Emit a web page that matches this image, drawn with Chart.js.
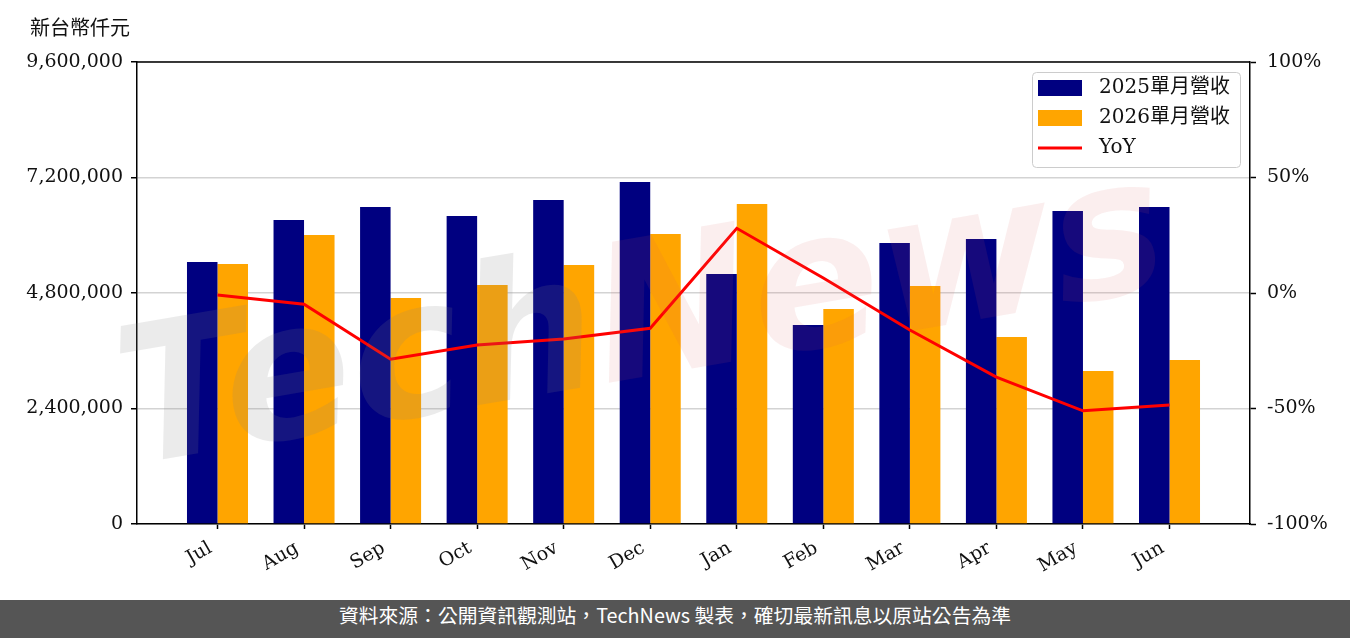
<!DOCTYPE html>
<html>
<head>
<meta charset="utf-8">
<script src="https://cdn.jsdelivr.net/npm/chart.js@4.4.1/dist/chart.umd.min.js"></script>
<style>
  html, body { margin: 0; padding: 0; background: #fff; }
  #wrap { width: 1350px; height: 638px; position: relative; }
  #footer { position: absolute; left: 0; top: 600px; width: 1350px; height: 38px; line-height: 38px;
    background: #555555; color: #fff; text-align: center; font: 19.8px "Noto Sans CJK TC", "Noto Sans", sans-serif; }
</style>
</head>
<body>
<div id="wrap">
  <canvas id="c" width="1350" height="600"></canvas>
  <div id="footer">資料來源：公開資訊觀測站，TechNews 製表，確切最新訊息以原站公告為準</div>
</div>
<script>
const months = ['Jul','Aug','Sep','Oct','Nov','Dec','Jan','Feb','Mar','Apr','May','Jun'];
const rev2025 = [5444000, 6317000, 6587000, 6400000, 6732000, 7106000, 5195000, 4135000, 5839000, 5922000, 6504000, 6587000];
const rev2026 = [5403000, 6005000, 4696000, 4966000, 5382000, 6026000, 6649000, 4468000, 4945000, 3886000, 3179000, 3408000];
const yoy = [-0.9, -4.9, -28.7, -22.5, -19.9, -15.3, 28.0, 6.5, -16.0, -36.4, -51.0, -48.5];
const leftTicks = [0, 2400000, 4800000, 7200000, 9600000];
const rightTicks = [-100, -50, 0, 50, 100];
const seriesLabels = ['2025單月營收', '2026單月營收', 'YoY'];
const unitLabel = '新台幣仟元';
const watermark = ['Tech', 'News'];

const serif = '"DejaVu Serif", "Noto Sans CJK TC", serif';

const decor = {
  id: 'decor',
  afterDatasetsDraw(chart) {
    const ctx = chart.ctx;
    ctx.save();
    ctx.translate(130, 465);
    ctx.rotate(-0.17);
    ctx.font = 'italic bold 190px "DejaVu Sans"';
    ctx.textBaseline = 'alphabetic';
    ctx.fillStyle = 'rgba(128,128,128,0.16)';
    ctx.fillText(watermark[0], 0, 0);
    const w = ctx.measureText(watermark[0]).width;
    ctx.fillStyle = 'rgba(220,90,90,0.10)';
    ctx.fillText(watermark[1], w, 0);
    ctx.restore();
  },
  afterDraw(chart) {
    const ctx = chart.ctx;
    const a = chart.chartArea;
    ctx.save();
    ctx.strokeStyle = '#000';
    ctx.lineWidth = 1.5;
    ctx.beginPath();
    ctx.moveTo(a.left, a.top);
    ctx.lineTo(a.right, a.top);
    ctx.stroke();
    ctx.fillStyle = '#111';
    ctx.font = '20px "Noto Sans CJK TC", sans-serif';
    ctx.textBaseline = 'middle';
    ctx.textAlign = 'left';
    ctx.fillText(unitLabel, 30, 27);
    const lx = 1032, ly = 72, lw = 208, lh = 95;
    ctx.fillStyle = 'rgba(255,255,255,0.85)';
    ctx.strokeStyle = '#cccccc';
    ctx.lineWidth = 1;
    ctx.beginPath();
    ctx.roundRect(lx + 0.5, ly + 0.5, lw, lh, 4);
    ctx.fill();
    ctx.stroke();
    const ds = chart.data.datasets;
    const rows = [88, 118, 148];
    ctx.font = '20px ' + serif;
    ctx.textBaseline = 'middle';
    ds.forEach((d, i) => {
      const y = rows[i];
      if (d.type === 'line') {
        ctx.strokeStyle = d.borderColor;
        ctx.lineWidth = 3;
        ctx.beginPath();
        ctx.moveTo(1038, y);
        ctx.lineTo(1082, y);
        ctx.stroke();
      } else {
        ctx.fillStyle = d.backgroundColor;
        ctx.fillRect(1038, y - 8, 44, 16);
      }
      ctx.fillStyle = '#111';
      ctx.fillText(d.label, 1099, y);
    });
    ctx.restore();
  }
};

const barData = (arr) => arr.map((v, i) => ({x: i, y: v}));

new Chart(document.getElementById('c'), {
  type: 'bar',
  data: {
    datasets: [
      { type: 'bar', label: seriesLabels[0], data: barData(rev2025), backgroundColor: '#000080', yAxisID: 'y', order: 2,
        categoryPercentage: 0.705, barPercentage: 1.0 },
      { type: 'bar', label: seriesLabels[1], data: barData(rev2026), backgroundColor: '#FFA500', yAxisID: 'y', order: 2,
        categoryPercentage: 0.705, barPercentage: 1.0 },
      { type: 'line', label: seriesLabels[2], data: barData(yoy), borderColor: '#FF0000', backgroundColor: '#FF0000',
        borderWidth: 3, pointRadius: 0, yAxisID: 'y1', order: 1, tension: 0 }
    ]
  },
  options: {
    responsive: false,
    animation: false,
    layout: { padding: { top: 62, left: 0, right: 0, bottom: 0 } },
    plugins: { legend: { display: false }, title: { display: false }, tooltip: { enabled: false } },
    scales: {
      x: {
        type: 'linear',
        offset: false,
        min: -0.93,
        max: 11.93,
        afterBuildTicks(s) { s.ticks = months.map((_, i) => ({value: i})); },
        afterFit(s) { s.height = 76; },
        grid: { offset: false, drawOnChartArea: false, tickLength: 5, tickColor: '#000', tickWidth: 1.5 },
        border: { display: true, color: '#000', width: 1.5 },
        ticks: {
          autoSkip: false, minRotation: 30, maxRotation: 30, padding: 8, labelOffset: -7,
          color: '#111', font: { family: serif, size: 19 },
          callback: (v) => months[v]
        }
      },
      y: {
        position: 'left',
        min: 0, max: 9600000,
        afterBuildTicks(s) { s.ticks = leftTicks.map(v => ({value: v})); },
        afterFit(s) { s.width = 137; },
        grid: { color: '#d3d3d3', lineWidth: 1.5, tickLength: 6, tickColor: '#000', tickWidth: 1.5 },
        border: { display: true, color: '#000', width: 1.5 },
        ticks: { padding: 8, color: '#111', font: { family: serif, size: 19 },
          callback: (v) => v.toLocaleString('en-US') }
      },
      y1: {
        position: 'right',
        min: -100, max: 100,
        afterBuildTicks(s) { s.ticks = rightTicks.map(v => ({value: v})); },
        afterFit(s) { s.width = 100; },
        grid: { drawOnChartArea: false, tickLength: 6, tickColor: '#000', tickWidth: 1.5 },
        border: { display: true, color: '#000', width: 1.5 },
        ticks: { padding: 11, color: '#111', font: { family: serif, size: 19 },
          callback: (v) => v + '%' }
      }
    }
  },
  plugins: [decor]
});
</script>
</body>
</html>
